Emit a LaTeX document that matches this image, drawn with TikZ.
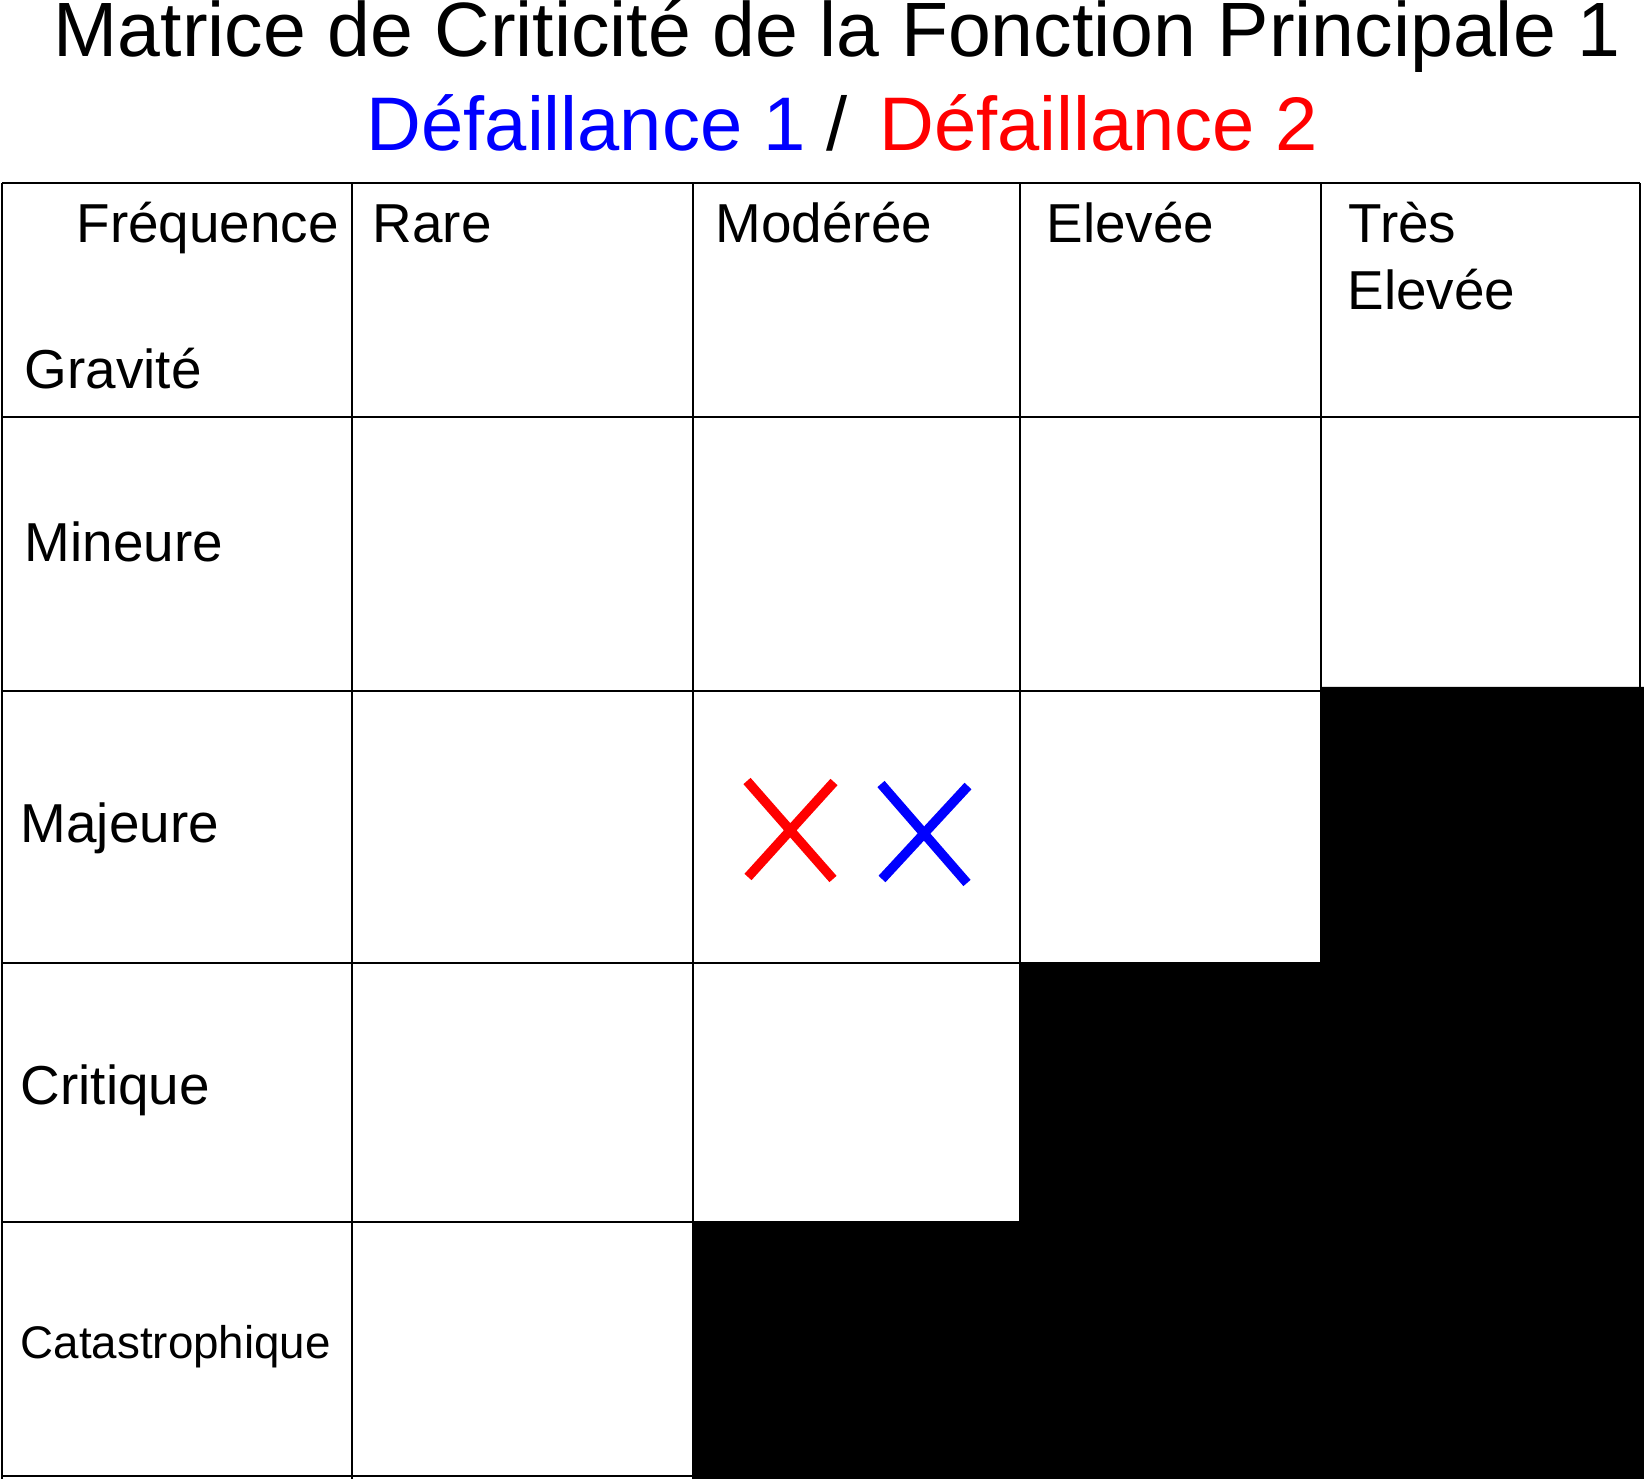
\documentclass[tikz,border=0pt]{standalone}
\usepackage{fontspec}
\setmainfont{Liberation Sans}
\begin{document}
\begin{tikzpicture}[x=0.01cm,y=-0.01cm,
  ttl/.style={anchor=base west,inner sep=0pt,font=\fontsize{21.9}{26}\selectfont},
  lbl/.style={anchor=base west,inner sep=0pt,font=\fontsize{15.6}{18.8}\selectfont},
  cross/.style={line width=2.7pt}]
\useasboundingbox(0,0)rectangle(1644,1479);
\fill(693,1222)--(1020,1222)--(1020,963)--(1321,963)--(1321,687)--(1644,687)--(1644,1479)--(693,1479)--cycle;
\foreach\y in{183,417,691,963,1222,1476}\draw[line width=0.57pt](2,\y)--(1640,\y);
\foreach\x in{2,352,693,1020,1321,1640}\draw[line width=0.57pt](\x,183)--(\x,1479);
\node[ttl](titre)at(53,57){Matrice de Criticité de la Fonction Principale 1};
\node[ttl,font=\fontsize{21.6}{26}\selectfont](defaillances)at(366,151){\textcolor{blue}{Défaillance 1} /\hspace{0.1cm} \textcolor{red}{Défaillance 2}};
\node[lbl](frequence)at(76,243){Fréquence};
\node[lbl](gravite)at(24,389){Gravité};
\node[lbl](rare)at(372,243){Rare};
\node[lbl](moderee)at(715,243){Modérée};
\node[lbl](elevee)at(1046,243){Elevée};
\node[lbl](tres)at(1348,243){Très};
\node[lbl](treselevee)at(1347,310){Elevée};
\node[lbl](mineure)at(24,562){Mineure};
\node[lbl](majeure)at(20,843){Majeure};
\node[lbl](critique)at(20,1104){Critique};
\node[lbl,font=\fontsize{13}{15.6}\selectfont](catastrophique)at(20,1358){Catastrophique};
\draw[cross,red](747,781)--(833,879)(834,782)--(748,877);
\draw[cross,blue](881,784)--(967,883)(968,786)--(882,879);
\end{tikzpicture}
\end{document}
